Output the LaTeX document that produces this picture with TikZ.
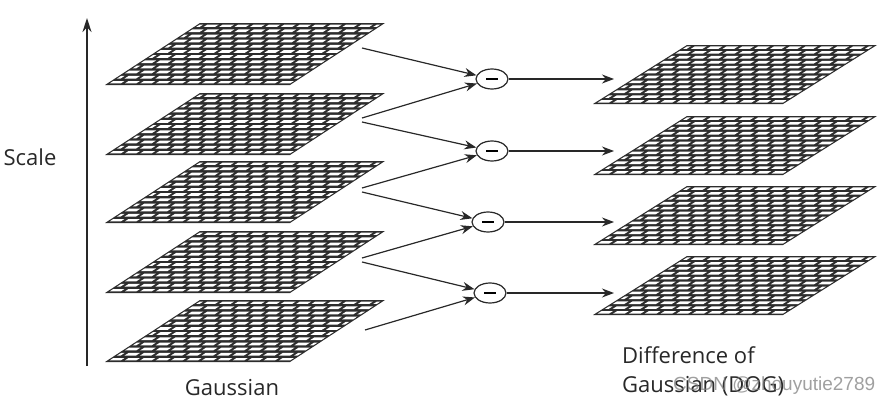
\documentclass[tikz,border=0pt]{standalone}
\usepackage{fontspec}
\setmainfont{Open Sans}
\newfontfamily\wmfont{Liberation Sans}
\usetikzlibrary{arrows.meta,shapes.geometric}
\definecolor{mesh}{RGB}{45,45,45}
\definecolor{txt}{RGB}{40,40,40}
\newcommand\meshbody{%
  \fill[mesh] (0,0) -- (1,0) -- (1,1) -- (0,1) -- cycle;
  \begin{scope}
    \clip (0.012,0.025) -- (0.988,0.025) -- (0.988,0.975) -- (0.012,0.975) -- cycle;
    \foreach \r in {0,...,11}{
      \pgfmathsetmacro\off{mod(\r,2)*0.5}
      \foreach \c in {-1,...,11}{
        \pgfmathsetmacro\ua{(\c+\off)/12+0.011}
        \pgfmathsetmacro\ub{(\c+\off+1)/12-0.011}
        \pgfmathsetmacro\va{\r/12+0.019}
        \pgfmathsetmacro\vb{(\r+1)/12-0.019}
        \fill[white] (\ua,\va) -- (\ub,\va) -- (\ub,\vb) -- (\ua,\vb) -- cycle;
      }
    }
  \end{scope}
}
\tikzset{
  lplate/.pic={\begin{scope}[x={(185pt,0pt)},y={(95pt,62pt)}]\meshbody\end{scope}},
  rplate/.pic={\begin{scope}[x={(190pt,0pt)},y={(94pt,59pt)}]\meshbody\end{scope}},
  minus/.style={ellipse, draw=txt, line width=1.2pt, fill=white, minimum width=32pt, minimum height=20pt, inner sep=0pt},
  arr/.style={draw=txt, line width=1.2pt, -{Stealth[length=12pt,width=9pt]}},
  lbl/.style={text=txt, font=\fontsize{22}{31}\selectfont, inner sep=0pt},
}
\begin{document}
\begin{tikzpicture}[x=1pt,y=-1pt]
\useasboundingbox (0,0) rectangle (879,407);
% Gaussian plates
\pic at (105,85) {lplate};
\pic at (105,155) {lplate};
\pic at (105,223) {lplate};
\pic at (105,293) {lplate};
\pic at (105,362) {lplate};
% DOG plates
\pic at (593,104) {rplate};
\pic at (593,175) {rplate};
\pic at (593,245) {rplate};
\pic at (593,315) {rplate};
% minus nodes
\node[minus] (m1) at (492,79) {\rule{12pt}{2.6pt}};
\node[minus] (m2) at (492,151) {\rule{12pt}{2.6pt}};
\node[minus] (m3) at (488,222) {\rule{12pt}{2.6pt}};
\node[minus] (m4) at (490,293) {\rule{12pt}{2.6pt}};
% arrow start points on Gaussian plates
\coordinate (l1d) at (362,48);
\coordinate (l2u) at (362,118);
\coordinate (l2d) at (362,122);
\coordinate (l3u) at (362,188);
\coordinate (l3d) at (362,192);
\coordinate (l4u) at (362,258);
\coordinate (l4d) at (362,262);
\coordinate (l5u) at (365,330);
% arrow end points on DOG plates
\coordinate (r1) at (614,79);
\coordinate (r2) at (614,151);
\coordinate (r3) at (614,222);
\coordinate (r4) at (614,293);
\draw[arr] (l1d) -- (m1);
\draw[arr] (l2u) -- (m1);
\draw[arr] (l2d) -- (m2);
\draw[arr] (l3u) -- (m2);
\draw[arr] (l3d) -- (m3);
\draw[arr] (l4u) -- (m3);
\draw[arr] (l4d) -- (m4);
\draw[arr] (l5u) -- (m4);
\draw[arr] (m1) -- (r1);
\draw[arr] (m2) -- (r2);
\draw[arr] (m3) -- (r3);
\draw[arr] (m4) -- (r4);
% scale axis
\coordinate (sb) at (87,366);
\coordinate (st) at (87,18);
\draw[draw=txt, line width=1.4pt, -{Stealth[length=14pt,width=9pt]}] (sb) -- (st);
% labels
\node[lbl] (scale) at (30,157) {Scale};
\node[lbl] (gauss) at (232,388) {Gaussian};
\node[lbl, anchor=west] (dog1) at (622,355) {Difference of};
\node[lbl, anchor=west] (dog2) at (622,386) {Gaussian (DOG)};
\node[text=gray, opacity=0.75, font=\wmfont\fontsize{19}{22}\selectfont, anchor=west, inner sep=0pt] (wm) at (673,386) {CSDN @zhouyutie2789};
\end{tikzpicture}
\end{document}
